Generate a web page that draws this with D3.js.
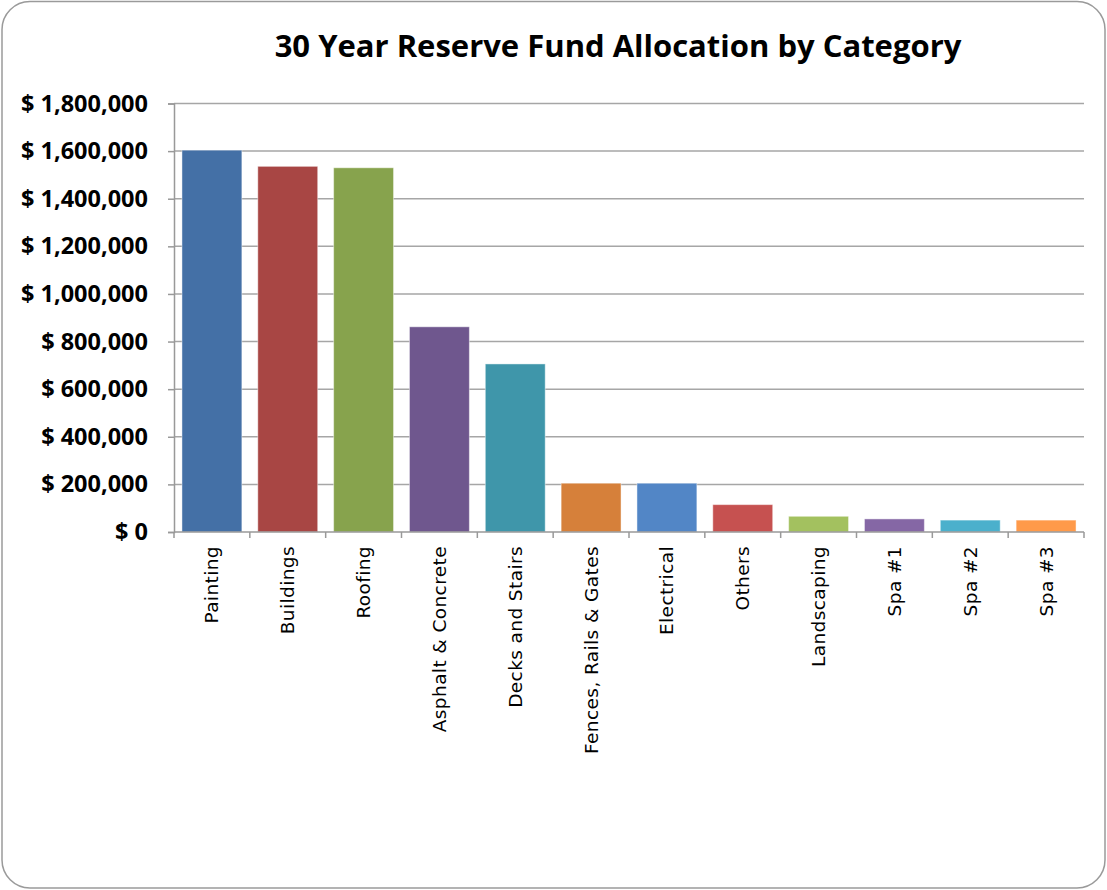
<!DOCTYPE html>
<html>
<head>
<meta charset="utf-8">
<script src="https://cdn.jsdelivr.net/npm/d3@7"></script>
<style>
  body { margin: 0; background: #fff; }
  svg { display: block; }
</style>
</head>
<body>
<svg id="chart"></svg>
<script>
// chart data
const categories = ['Painting', 'Buildings', 'Roofing', 'Asphalt & Concrete', 'Decks and Stairs',
  'Fences, Rails & Gates', 'Electrical', 'Others', 'Landscaping', 'Spa #1', 'Spa #2', 'Spa #3'];
const amounts = [1604000, 1536000, 1530000, 862000, 706000, 205000, 205000, 115000, 66000, 55000, 50000, 50000];
const barColors = ['#4470A6', '#A84644', '#87A34D', '#6F578E', '#3F96AA', '#D6803A',
  '#5286C6', '#C65150', '#A3C15F', '#8567A5', '#4BB0CC', '#FF9A4A'];
const yTicks = [0, 200000, 400000, 600000, 800000, 1000000, 1200000, 1400000, 1600000, 1800000];
const chartTitle = '30 Year Reserve Fund Allocation by Category';

const width = 1107, height = 890;
const margin = { top: 103.5, right: 23, bottom: 358, left: 174 };

const svg = d3.select('#chart')
  .attr('width', width)
  .attr('height', height);

// outer rounded frame
svg.append('rect')
  .attr('x', 2).attr('y', 1.5)
  .attr('width', width - 4).attr('height', height - 3.5)
  .attr('rx', 28)
  .attr('fill', '#fff')
  .attr('stroke', '#9a9a9a')
  .attr('stroke-width', 1.5);

svg.append('text')
  .attr('x', 618)
  .attr('y', 57)
  .attr('text-anchor', 'middle')
  .attr('font-family', "'Open Sans', sans-serif")
  .attr('font-weight', 'bold')
  .attr('font-size', 31)
  .attr('fill', '#000')
  .text(chartTitle);

const innerW = width - margin.left - margin.right;
const innerH = height - margin.top - margin.bottom;

const x = d3.scaleBand()
  .domain(categories)
  .range([0, innerW])
  .paddingInner(0.21)
  .paddingOuter(0.105);

const y = d3.scaleLinear()
  .domain([0, 1800000])
  .range([innerH, 0]);

const g = svg.append('g')
  .attr('transform', `translate(${margin.left},${margin.top})`);

// gridlines
g.append('g')
  .selectAll('line')
  .data(yTicks.filter(d => d > 0))
  .join('line')
    .attr('x1', 0).attr('x2', innerW)
    .attr('y1', d => y(d)).attr('y2', d => y(d))
    .attr('stroke', '#a6a6a6')
    .attr('stroke-width', 1.5);

// bars
g.append('g')
  .selectAll('rect')
  .data(categories)
  .join('rect')
    .attr('x', d => x(d))
    .attr('y', (d, i) => y(amounts[i]))
    .attr('width', x.bandwidth())
    .attr('height', (d, i) => innerH - y(amounts[i]))
    .attr('fill', (d, i) => barColors[i])
    .attr('stroke', 'rgba(255,255,255,0.45)')
    .attr('stroke-width', 1);

// y axis
const yAxis = g.append('g')
  .call(d3.axisLeft(y)
    .tickValues(yTicks)
    .tickSize(6)
    .tickPadding(20)
    .tickFormat(d => '$ ' + d3.format(',')(d)));
yAxis.select('.domain').attr('stroke', '#999').attr('stroke-width', 1.5);
yAxis.selectAll('.tick line').attr('stroke', '#999').attr('stroke-width', 1.5);
yAxis.selectAll('.tick text')
  .attr('font-family', "'Open Sans', sans-serif")
  .attr('font-weight', 'bold')
  .attr('font-size', 23.5)
  .attr('fill', '#000');

// x axis: ticks on band edges, labels rotated
const xAxisG = g.append('g')
  .attr('transform', `translate(0,${innerH})`);
xAxisG.append('line')
  .attr('x1', 0).attr('x2', innerW)
  .attr('stroke', '#999').attr('stroke-width', 1.5);
const step = x.step();
xAxisG.selectAll('.edge')
  .data(d3.range(categories.length + 1))
  .join('line')
    .attr('class', 'edge')
    .attr('x1', i => x(categories[0]) - step * 0.105 + i * step)
    .attr('x2', i => x(categories[0]) - step * 0.105 + i * step)
    .attr('y1', 0).attr('y2', 6)
    .attr('stroke', '#999').attr('stroke-width', 1.5);
xAxisG.selectAll('.xlabel')
  .data(categories)
  .join('text')
    .attr('class', 'xlabel')
    .attr('transform', d => `translate(${x(d) + x.bandwidth() / 2},14) rotate(-90)`)
    .attr('text-anchor', 'end')
    .attr('dy', '0.35em')
    .attr('font-family', "'DejaVu Sans', sans-serif")
    .attr('font-size', 18.5)
    .attr('font-weight', 500)
    .attr('letter-spacing', 0.4)
    .attr('fill', '#000')
    .text(d => d);
</script>
</body>
</html>
